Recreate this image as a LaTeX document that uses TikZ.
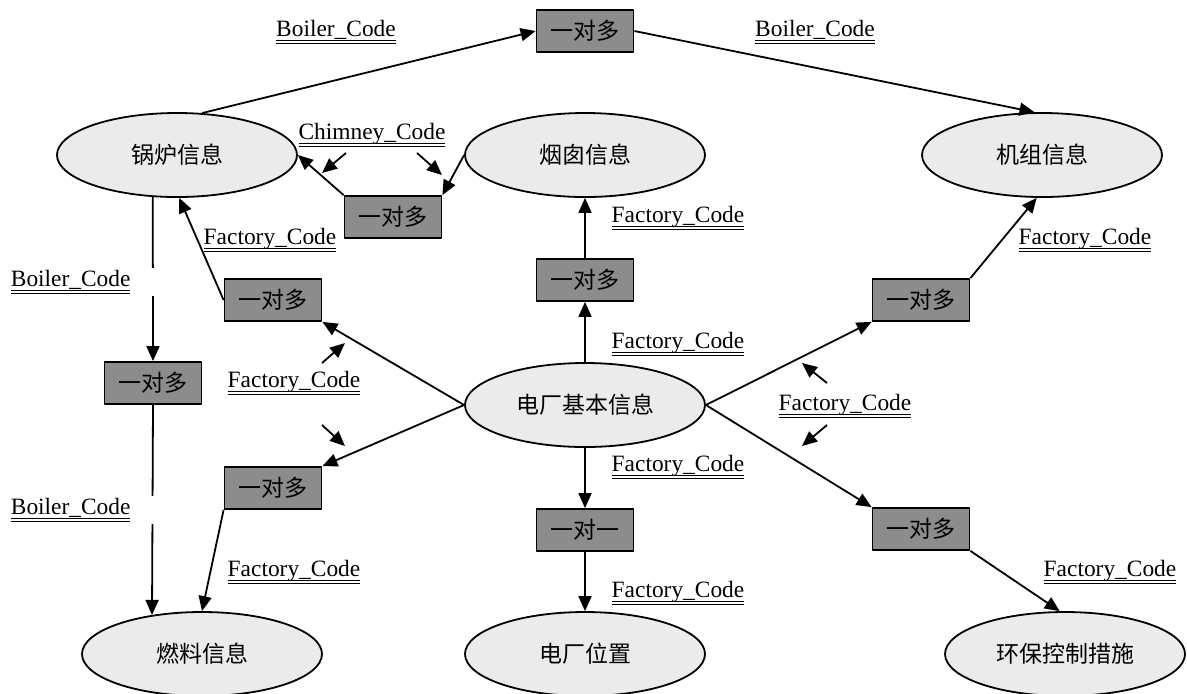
\documentclass[tikz,border=0pt]{standalone}
\usepackage{fontspec}
\setmainfont{Liberation Serif}
\newfontfamily\cjk{Noto Sans CJK SC}
\newcommand\dul[1]{\vtop{\hbox{\raisebox{0pt}[\height][0pt]{#1}}\kern2.1pt\hrule height0.5pt\kern0.9pt\hrule height0.5pt}}
\usetikzlibrary{shapes.geometric,arrows.meta}
\begin{document}
\begin{tikzpicture}[x=0.5pt, y=-0.5pt, line join=round, line width=0.9pt,
		>={Triangle[length=7.5pt, width=6.5pt]},
		ent/.style={ellipse, draw, fill=black!8, minimum width=120pt, minimum height=42pt, inner sep=0pt, font=\cjk\fontsize{11.5}{14}\selectfont},
		rel/.style={rectangle, draw, fill=black!45, minimum width=48.5pt, minimum height=21pt, inner sep=0pt, font=\cjk\fontsize{11.5}{14}\selectfont},
		key/.style={inner sep=1pt, font=\fontsize{11.7}{14}\selectfont},
		keygap/.style={key, fill=white, anchor=west, text width=76pt, align=left}]
	\useasboundingbox (0,0) rectangle (1187,693);
	\node[ent] (gl) at (177,155) {锅炉信息};
	\node[ent] (yc) at (585,155) {烟囱信息};
	\node[ent] (jz) at (1042,155) {机组信息};
	\node[ent] (dc) at (585,405) {电厂基本信息};
	\node[ent] (rl) at (202,654) {燃料信息};
	\node[ent] (wz) at (585,654) {电厂位置};
	\node[ent] (hb) at (1065,654) {环保控制措施};
	\node[rel] (r1) at (585,31) {一对多};
	\node[rel] (r2) at (393,217) {一对多};
	\node[rel] (r3) at (273,300) {一对多};
	\node[rel] (r4) at (585,280) {一对多};
	\node[rel] (r5) at (921,300) {一对多};
	\node[rel] (r6) at (153,383) {一对多};
	\node[rel] (r7) at (273,488) {一对多};
	\node[rel] (r8) at (585,530) {一对一};
	\node[rel] (r9) at (921,529) {一对多};
	\draw[->] (gl.59) -- (r1.west);
	\draw[->] (r1.east) -- (jz.100);
	\draw[->] (r2.north west) -- (gl.east);
	\draw[->] (yc.west) -- (r2.north east);
	\draw[->] (r3.west) -- (gl.-87);
	\draw[->] (dc.west) -- (r3.south east);
	\draw[->] (gl.-120) -- (r6.north);
	\draw[->] (r6.south) -- (rl.142);
	\draw[->] (dc.west) -- (r7.north east);
	\draw[->] (r7.south west) -- (rl.north);
	\draw[->] (dc.north) -- (r4.south);
	\draw[->] (r4.north) -- (yc.south);
	\draw[->] (dc.south) -- (r8.north);
	\draw[->] (r8.south) -- (wz.north);
	\draw[->] (dc.east) -- (r5.south west);
	\draw[->] (r5.north east) -- (jz.-97);
	\draw[->] (dc.east) -- (r9.north west);
	\draw[->] (r9.south east) -- (hb.97);
	\coordinate (s1) at (346,153); \coordinate (e1) at (322,173);
	\coordinate (s2) at (417,153); \coordinate (e2) at (442,175);
	\coordinate (s3) at (322,363); \coordinate (e3) at (345,343);
	\coordinate (s4) at (322,425); \coordinate (e4) at (345,446);
	\coordinate (s5) at (827,383); \coordinate (e5) at (802,363);
	\coordinate (s6) at (827,425); \coordinate (e6) at (802,446);
	\foreach \i in {1,...,6}
		\draw[->] (s\i) -- (e\i);
	\node[key] (k1) at (336,32) {\dul{Boiler\_Code}};
	\node[key] (k2) at (815,32) {\dul{Boiler\_Code}};
	\node[key] (k3) at (372,135) {\dul{Chimney\_Code}};
	\node[key] (k4) at (270,240) {\dul{Factory\_Code}};
	\node[key] (k5) at (678,218) {\dul{Factory\_Code}};
	\node[key] (k6) at (1085,240) {\dul{Factory\_Code}};
	\node[keygap] (k7) at (8,282) {\dul{Boiler\_Code}};
	\node[key] (k8) at (678,344) {\dul{Factory\_Code}};
	\node[key] (k9) at (294,383) {\dul{Factory\_Code}};
	\node[key] (k10) at (845,406) {\dul{Factory\_Code}};
	\node[key] (k11) at (678,467) {\dul{Factory\_Code}};
	\node[keygap] (k12) at (8,510) {\dul{Boiler\_Code}};
	\node[key] (k13) at (294,572) {\dul{Factory\_Code}};
	\node[key] (k14) at (678,593) {\dul{Factory\_Code}};
	\node[key] (k15) at (1110,572) {\dul{Factory\_Code}};
\end{tikzpicture}
\end{document}
